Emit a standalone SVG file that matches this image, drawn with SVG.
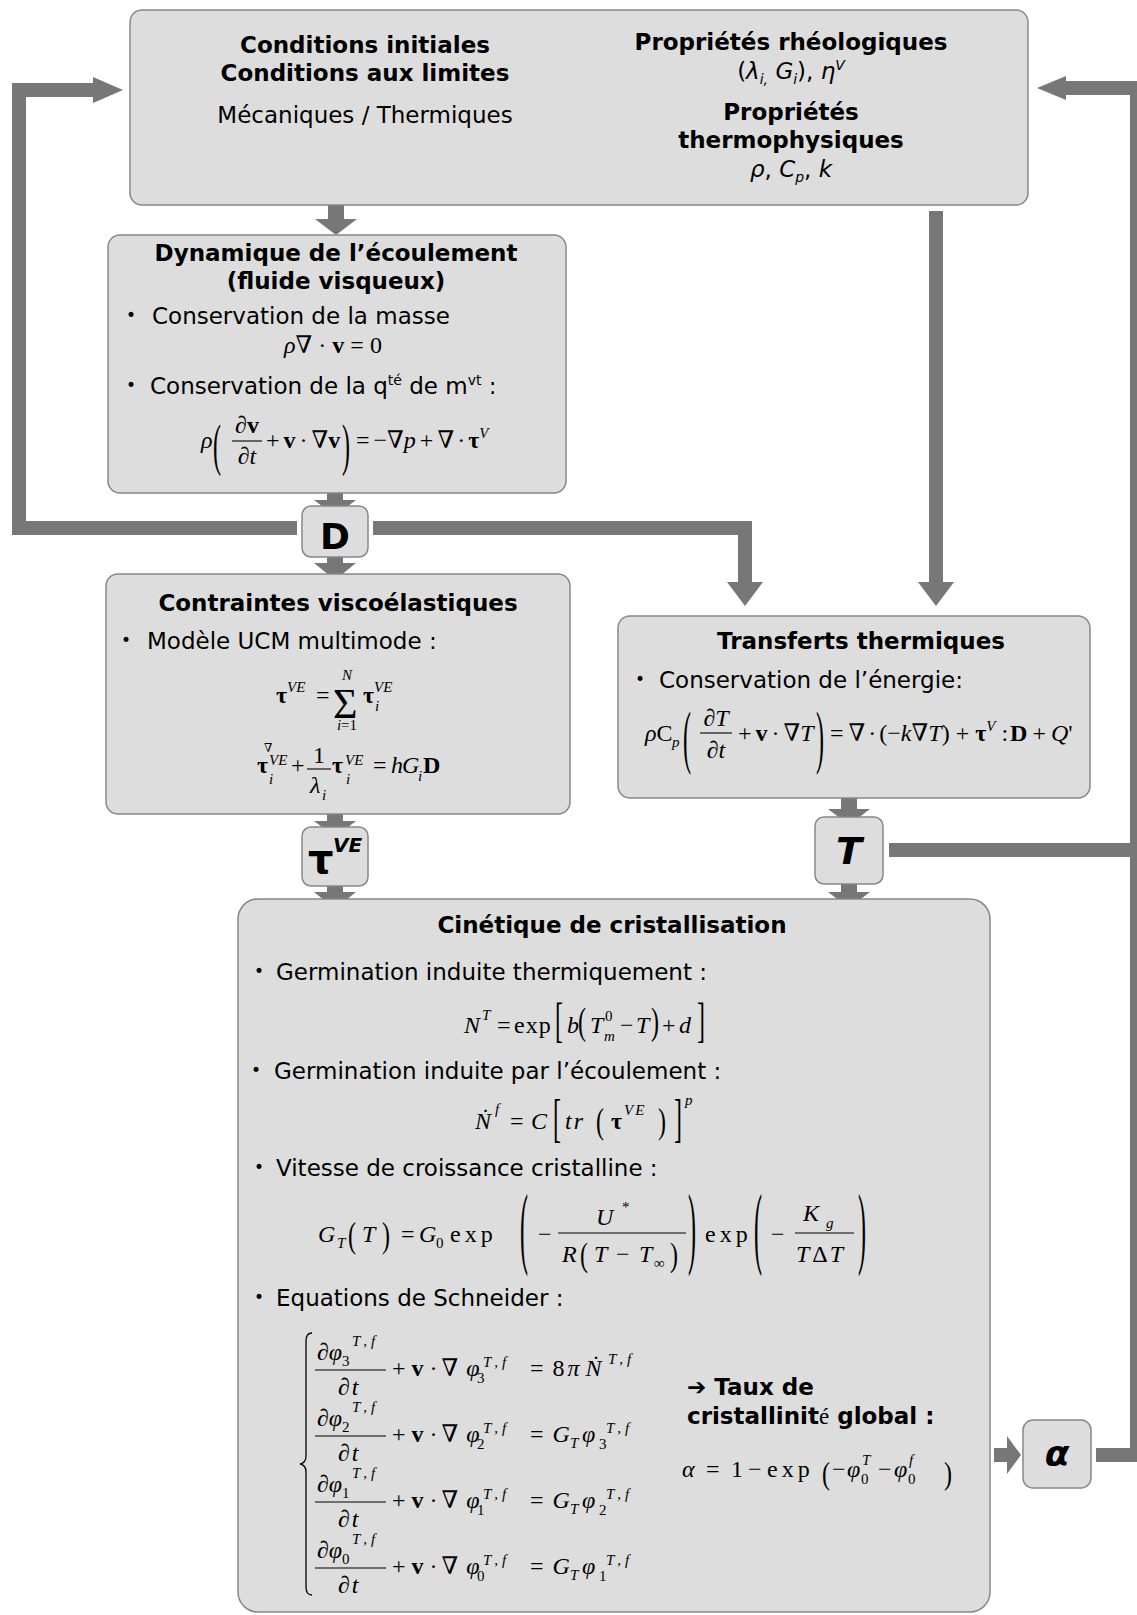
<svg xmlns="http://www.w3.org/2000/svg" width="1137" height="1615" viewBox="0 0 1137 1615">
<style>
.box{fill:#dddddd;stroke:#888888;stroke-width:1.5}
.t{font-family:"DejaVu Sans",Verdana,sans-serif;font-size:23px;fill:#000}
.b{font-weight:bold}
.c{text-anchor:middle}
.bl{font-family:"DejaVu Sans",sans-serif;font-size:17px;fill:#000}
.m{font-family:"Liberation Serif","DejaVu Serif","Times New Roman",serif;font-size:24px;fill:#000}
.i{font-style:italic}
.bd{font-weight:bold}
.s{font-size:15px}
.x{font-size:15px}
.ls{letter-spacing:4px}
.cn{fill:#777777}
.ln{stroke:#777777;stroke-width:14;fill:none}
.fl{stroke:#000;stroke-width:1.1}
.br{fill:none;stroke:#000;stroke-width:1.3}
</style>
<rect width="1137" height="1615" fill="#ffffff"/>

<g id="connectors">
  <rect class="cn" x="328" y="205" width="16" height="14"/>
  <polygon class="cn" points="315,219 357,219 336,235"/>
  <rect class="cn" x="327" y="484" width="16" height="16"/>
  <polygon class="cn" points="314,500 356,500 335,516"/>
  <rect class="cn" x="327" y="548" width="16" height="15"/>
  <polygon class="cn" points="314,563 356,563 335,580"/>
  <rect class="cn" x="327" y="806" width="16" height="15"/>
  <polygon class="cn" points="314,821 356,821 335,837"/>
  <rect class="cn" x="327" y="877" width="16" height="15"/>
  <polygon class="cn" points="314,892 356,892 335,909"/>
  <rect class="cn" x="841" y="791" width="16" height="18"/>
  <polygon class="cn" points="828,809 870,809 849,825"/>
  <rect class="cn" x="841" y="876" width="16" height="16"/>
  <polygon class="cn" points="828,892 870,892 849,908"/>
  <polyline class="ln" points="297,528 19,528 19,90 94,90"/>
  <polygon class="cn" points="93,77 123,90 93,103"/>
  <polyline class="ln" points="373,528 745,528 745,583"/>
  <polygon class="cn" points="727,582 763,582 745,606"/>
  <rect class="cn" x="929" y="211" width="14" height="372"/>
  <polygon class="cn" points="918,582 954,582 936,606"/>
  <polyline class="ln" points="1096,1455 1137,1455 1137,88 1066,88"/>
  <polygon class="cn" points="1066,76 1037,88 1066,100"/>
  <line class="ln" x1="889" y1="850" x2="1137" y2="850"/>
  <rect class="cn" x="994" y="1448" width="14" height="14"/>
  <polygon class="cn" points="1007,1436 1021,1455 1007,1474"/>
</g>

<g id="node-donnees">
  <rect class="box" x="130" y="10" width="898" height="195" rx="12"/>
  <text class="t b c" x="365" y="53">Conditions initiales</text>
  <text class="t b c" x="365" y="81">Conditions aux limites</text>
  <text class="t c" x="365" y="123">Mécaniques / Thermiques</text>
  <text class="t b c" x="791" y="50">Propriétés rhéologiques</text>
  <text class="t c" x="791" y="79">(<tspan class="i">λ</tspan><tspan class="i" font-size="14" dy="5">i,</tspan><tspan dy="-5"> </tspan><tspan class="i">G</tspan><tspan class="i" font-size="14" dy="5">i</tspan><tspan dy="-5">), </tspan><tspan class="i">η</tspan><tspan class="i" font-size="14" dy="-9">V</tspan></text>
  <text class="t b c" x="791" y="120">Propriétés</text>
  <text class="t b c" x="791" y="148">thermophysiques</text>
  <text class="t c" x="791" y="177"><tspan class="i">ρ</tspan>, <tspan class="i">C</tspan><tspan class="i" font-size="14" dy="5">p</tspan><tspan dy="-5">, </tspan><tspan class="i">k</tspan></text>
</g>

<g id="node-dynamique">
  <rect class="box" x="108" y="235" width="458" height="258" rx="12"/>
  <text class="t b c" x="336" y="261">Dynamique de l’écoulement</text>
  <text class="t b c" x="336" y="289">(fluide visqueux)</text>
  <text class="bl" x="126" y="321">•</text>
  <text class="t" x="152" y="324">Conservation de la masse</text>
  <text class="m c" x="333" y="353"><tspan class="i">ρ</tspan>∇ · <tspan class="bd">v</tspan> = 0</text>
  <text class="bl" x="126" y="391">•</text>
  <text class="t" x="150" y="394">Conservation de la q<tspan font-size="14" dy="-9">té</tspan><tspan dy="9"> de m</tspan><tspan font-size="14" dy="-9">vt</tspan><tspan dy="9"> :</tspan></text>
  <text class="m i" x="201" y="448">ρ</text>
  <text class="m" transform="translate(213,464) scale(1,2.4)">(</text>
  <text class="m c" x="247" y="433">∂<tspan class="bd">v</tspan></text>
  <line class="fl" x1="232" y1="441" x2="262" y2="441"/>
  <text class="m c" x="247" y="464">∂<tspan class="i">t</tspan></text>
  <text class="m" x="266" y="448">+<tspan class="bd" dx="4">v</tspan><tspan dx="4">·</tspan><tspan dx="4">∇</tspan><tspan class="bd">v</tspan></text>
  <text class="m" transform="translate(342,464) scale(1,2.4)">)</text>
  <text class="m" x="356" y="448">=<tspan dx="4">−∇</tspan><tspan class="i">p</tspan><tspan dx="4">+</tspan><tspan dx="4">∇</tspan><tspan dx="3">·</tspan><tspan class="bd" dx="3">τ</tspan><tspan class="i s" dy="-10">V</tspan></text>
</g>

<g id="node-D">
  <rect class="box" x="302" y="506" width="66" height="51" rx="9"/>
  <text class="t b c" x="335" y="549" style="font-size:36px">D</text>
</g>

<g id="node-contraintes">
  <rect class="box" x="106" y="574" width="464" height="240" rx="12"/>
  <text class="t b c" x="338" y="611">Contraintes viscoélastiques</text>
  <text class="bl" x="121" y="646">•</text>
  <text class="t" x="147" y="649">Modèle UCM multimode :</text>
  <text class="m bd" x="276" y="703">τ</text>
  <text class="m i s" x="287" y="692">VE</text>
  <text class="m" x="316" y="703">=</text>
  <text class="m" x="333" y="718" style="font-size:42px">Σ</text>
  <text class="m i s c" x="347" y="680">N</text>
  <text class="m s c" x="347" y="730"><tspan class="i">i</tspan>=1</text>
  <text class="m bd" x="363" y="703">τ</text>
  <text class="m i s" x="374" y="692">VE</text>
  <text class="m i s" x="375" y="711">i</text>
  <text class="m bd" x="257" y="773">τ</text>
  <text class="m" x="264" y="752" style="font-size:12px">∇</text>
  <text class="m i s" x="269" y="765">VE</text>
  <text class="m i s" x="269" y="784">i</text>
  <text class="m" x="291" y="773">+</text>
  <text class="m c" x="319" y="763">1</text>
  <line class="fl" x1="307" y1="769" x2="331" y2="769"/>
  <text class="m i" x="310" y="793">λ</text>
  <text class="m i s" x="322" y="800">i</text>
  <text class="m bd" x="332" y="773">τ</text>
  <text class="m i s" x="345" y="765">VE</text>
  <text class="m i s" x="346" y="784">i</text>
  <text class="m" x="373" y="773">=</text>
  <text class="m i" x="391" y="773">h</text>
  <text class="m i" x="402" y="773">G</text>
  <text class="m i s" x="418" y="781">i</text>
  <text class="m bd" x="423" y="773">D</text>
</g>

<g id="node-tau">
  <rect class="box" x="302" y="827" width="66" height="59" rx="9"/>
  <text class="t b" x="308" y="873" style="font-size:40px">τ</text>
  <text class="t b i" x="333" y="852" style="font-size:20px">VE</text>
</g>

<g id="node-transferts">
  <rect class="box" x="618" y="616" width="472" height="182" rx="12"/>
  <text class="t b c" x="861" y="649">Transferts thermiques</text>
  <text class="bl" x="635" y="685">•</text>
  <text class="t" x="659" y="688">Conservation de l’énergie:</text>
  <text class="m" x="645" y="741"><tspan class="i">ρ</tspan>C</text>
  <text class="m i s" x="672" y="747">p</text>
  <text class="m" transform="translate(683,760) scale(1,2.9)">(</text>
  <text class="m c" x="716" y="726">∂<tspan class="i">T</tspan></text>
  <line class="fl" x1="700" y1="733" x2="732" y2="733"/>
  <text class="m c" x="716" y="758">∂<tspan class="i">t</tspan></text>
  <text class="m" x="738" y="741">+<tspan class="bd" dx="4">v</tspan><tspan dx="4">·</tspan><tspan dx="4">∇</tspan><tspan class="i">T</tspan></text>
  <text class="m" transform="translate(816,760) scale(1,2.9)">)</text>
  <text class="m" x="830" y="741">=<tspan dx="5">∇</tspan><tspan dx="3">·</tspan><tspan dx="3">(</tspan>−<tspan class="i">k</tspan>∇<tspan class="i">T</tspan>)<tspan dx="6">+</tspan><tspan class="bd" dx="6">τ</tspan><tspan class="i s" dy="-10">V</tspan><tspan dx="6" dy="10">:</tspan><tspan class="bd" dx="2">D</tspan><tspan dx="5">+</tspan><tspan class="i" dx="5">Q</tspan>'</text>
</g>

<g id="node-T">
  <rect class="box" x="815" y="817" width="68" height="67" rx="9"/>
  <text class="t b i c" x="849" y="864" style="font-size:38px">T</text>
</g>

<g id="node-cinetique">
  <rect class="box" x="238" y="899" width="752" height="713" rx="20"/>
  <text class="t b c" x="612" y="933">Cinétique de cristallisation</text>
  <text class="bl" x="254" y="977">•</text>
  <text class="t" x="276" y="980">Germination induite thermiquement :</text>
  <text class="m i" x="464" y="1033">N</text>
  <text class="m i s" x="482" y="1020">T</text>
  <text class="m" x="497" y="1033">=</text>
  <text class="m" x="514" y="1033" letter-spacing="1">exp</text>
  <text class="m" transform="translate(555,1036) scale(1,2)">[</text>
  <text class="m i" x="567" y="1033">b</text>
  <text class="m" transform="translate(578,1034) scale(1,1.55)">(</text>
  <text class="m i" x="590" y="1033">T</text>
  <text class="m x" x="605" y="1021">0</text>
  <text class="m i x" x="604" y="1041">m</text>
  <text class="m" x="620" y="1033">−</text>
  <text class="m i" x="636" y="1033">T</text>
  <text class="m" transform="translate(651,1034) scale(1,1.55)">)</text>
  <text class="m" x="662" y="1033">+</text>
  <text class="m i" x="679" y="1033">d</text>
  <text class="m" transform="translate(697,1036) scale(1,2)">]</text>

  <text class="bl" x="251" y="1076">•</text>
  <text class="t" x="274" y="1079">Germination induite par l’écoulement :</text>
  <text class="m i" x="475" y="1129">Ṅ</text>
  <text class="m i s" x="495" y="1114">f</text>
  <text class="m" x="510" y="1129">=</text>
  <text class="m i" x="531" y="1129">C</text>
  <text class="m" transform="translate(553,1136) scale(1,2.2)">[</text>
  <text class="m i" x="565" y="1129" letter-spacing="2">tr</text>
  <text class="m" transform="translate(596,1133) scale(1,1.5)">(</text>
  <text class="m bd" x="611" y="1129">τ</text>
  <text class="m i x" x="624" y="1115" letter-spacing="2">VE</text>
  <text class="m" transform="translate(658,1133) scale(1,1.5)">)</text>
  <text class="m" transform="translate(674,1136) scale(1,2.2)">]</text>
  <text class="m i x" x="685" y="1105">p</text>

  <text class="bl" x="254" y="1173">•</text>
  <text class="t" x="276" y="1176">Vitesse de croissance cristalline :</text>
  <text class="m i" x="318" y="1242">G</text>
  <text class="m i s" x="337" y="1248">T</text>
  <text class="m" transform="translate(348,1247) scale(1,1.5)">(</text>
  <text class="m i" x="362" y="1242">T</text>
  <text class="m" transform="translate(382,1247) scale(1,1.5)">)</text>
  <text class="m" x="401" y="1242">=</text>
  <text class="m i" x="419" y="1242">G</text>
  <text class="m s" x="436" y="1248">0</text>
  <text class="m" x="450" y="1242" letter-spacing="4">exp</text>
  <text class="m" transform="translate(520,1257) scale(1,3.8)">(</text>
  <text class="m" x="538" y="1242">−</text>
  <text class="m i" x="596" y="1225">U</text>
  <text class="m s" x="622" y="1212">*</text>
  <line class="fl" x1="558" y1="1233" x2="686" y2="1233"/>
  <text class="m i" x="562" y="1262">R</text>
  <text class="m" transform="translate(580,1266) scale(1,1.4)">(</text>
  <text class="m i" x="594" y="1262">T</text>
  <text class="m" x="616" y="1262">−</text>
  <text class="m i" x="639" y="1262">T</text>
  <text class="m s" x="654" y="1268">∞</text>
  <text class="m" transform="translate(670,1266) scale(1,1.4)">)</text>
  <text class="m" transform="translate(688,1257) scale(1,3.8)">)</text>
  <text class="m" x="705" y="1242" letter-spacing="4">exp</text>
  <text class="m" transform="translate(754,1257) scale(1,3.8)">(</text>
  <text class="m" x="771" y="1242">−</text>
  <text class="m i" x="803" y="1221">K</text>
  <text class="m i s" x="826" y="1228">g</text>
  <line class="fl" x1="795" y1="1233" x2="854" y2="1233"/>
  <text class="m" x="796" y="1262"><tspan class="i">T</tspan><tspan dx="3">Δ</tspan><tspan class="i" dx="2">T</tspan></text>
  <text class="m" transform="translate(858,1257) scale(1,3.8)">)</text>

  <text class="bl" x="254" y="1303">•</text>
  <text class="t" x="276" y="1306">Equations de Schneider :</text>
  <path class="br" d="M 312 1333 Q 306 1333 306 1341 L 306 1456 Q 306 1463 300 1464 Q 306 1465 306 1472 L 306 1587 Q 306 1595 312 1595"/>

  <text class="m" x="317" y="1360">∂<tspan class="i">φ</tspan></text>
  <text class="m x" x="342" y="1366">3</text>
  <text class="m i x ls" x="352" y="1346">T,f</text>
  <line class="fl" x1="315" y1="1370" x2="386" y2="1370"/>
  <text class="m" x="338" y="1395">∂<tspan class="i" dx="2">t</tspan></text>
  <text class="m" x="392" y="1376">+<tspan class="bd" dx="6">v</tspan><tspan dx="6">·</tspan><tspan dx="4">∇</tspan><tspan class="i" dx="8">φ</tspan></text>
  <text class="m x" x="477" y="1383">3</text>
  <text class="m i x ls" x="483" y="1367">T,f</text>
  <text class="m" x="530" y="1376">=<tspan dx="9">8</tspan><tspan class="i" dx="3">π</tspan><tspan class="i" dx="6">Ṅ</tspan></text>
  <text class="m i x ls" x="608" y="1364">T,f</text>

  <text class="m" x="317" y="1426">∂<tspan class="i">φ</tspan></text>
  <text class="m x" x="342" y="1432">2</text>
  <text class="m i x ls" x="352" y="1412">T,f</text>
  <line class="fl" x1="315" y1="1436" x2="386" y2="1436"/>
  <text class="m" x="338" y="1461">∂<tspan class="i" dx="2">t</tspan></text>
  <text class="m" x="392" y="1442">+<tspan class="bd" dx="6">v</tspan><tspan dx="6">·</tspan><tspan dx="4">∇</tspan><tspan class="i" dx="8">φ</tspan></text>
  <text class="m x" x="477" y="1449">2</text>
  <text class="m i x ls" x="483" y="1433">T,f</text>
  <text class="m" x="530" y="1442">=<tspan class="i" dx="9">G</tspan></text>
  <text class="m i x" x="570" y="1448">T</text>
  <text class="m i" x="582" y="1442">φ</text>
  <text class="m x" x="599" y="1449">3</text>
  <text class="m i x ls" x="606" y="1433">T,f</text>

  <text class="m" x="317" y="1492">∂<tspan class="i">φ</tspan></text>
  <text class="m x" x="342" y="1498">1</text>
  <text class="m i x ls" x="352" y="1478">T,f</text>
  <line class="fl" x1="315" y1="1502" x2="386" y2="1502"/>
  <text class="m" x="338" y="1527">∂<tspan class="i" dx="2">t</tspan></text>
  <text class="m" x="392" y="1508">+<tspan class="bd" dx="6">v</tspan><tspan dx="6">·</tspan><tspan dx="4">∇</tspan><tspan class="i" dx="8">φ</tspan></text>
  <text class="m x" x="477" y="1515">1</text>
  <text class="m i x ls" x="483" y="1499">T,f</text>
  <text class="m" x="530" y="1508">=<tspan class="i" dx="9">G</tspan></text>
  <text class="m i x" x="570" y="1514">T</text>
  <text class="m i" x="582" y="1508">φ</text>
  <text class="m x" x="599" y="1515">2</text>
  <text class="m i x ls" x="606" y="1499">T,f</text>

  <text class="m" x="317" y="1558">∂<tspan class="i">φ</tspan></text>
  <text class="m x" x="342" y="1564">0</text>
  <text class="m i x ls" x="352" y="1544">T,f</text>
  <line class="fl" x1="315" y1="1568" x2="386" y2="1568"/>
  <text class="m" x="338" y="1593">∂<tspan class="i" dx="2">t</tspan></text>
  <text class="m" x="392" y="1574">+<tspan class="bd" dx="6">v</tspan><tspan dx="6">·</tspan><tspan dx="4">∇</tspan><tspan class="i" dx="8">φ</tspan></text>
  <text class="m x" x="477" y="1581">0</text>
  <text class="m i x ls" x="483" y="1565">T,f</text>
  <text class="m" x="530" y="1574">=<tspan class="i" dx="9">G</tspan></text>
  <text class="m i x" x="570" y="1580">T</text>
  <text class="m i" x="582" y="1574">φ</text>
  <text class="m x" x="599" y="1581">1</text>
  <text class="m i x ls" x="606" y="1565">T,f</text>

  <text class="t b" x="687" y="1395">➔ Taux de</text>
  <text class="t b" x="687" y="1424">cristallinit<tspan font-family="Liberation Serif, serif" font-weight="normal">é</tspan> global :</text>
  <text class="m i" x="682" y="1477">α</text>
  <text class="m" x="706" y="1477">=</text>
  <text class="m" x="731" y="1477">1</text>
  <text class="m" x="748" y="1477">−</text>
  <text class="m" x="767" y="1477" letter-spacing="4">exp</text>
  <text class="m" transform="translate(822,1484) scale(1,1.35)">(</text>
  <text class="m" x="832" y="1477">−</text>
  <text class="m i" x="847" y="1477">φ</text>
  <text class="m x" x="861" y="1484">0</text>
  <text class="m i x" x="862" y="1465">T</text>
  <text class="m" x="878" y="1477">−</text>
  <text class="m i" x="894" y="1477">φ</text>
  <text class="m x" x="908" y="1484">0</text>
  <text class="m i x" x="909" y="1465">f</text>
  <text class="m" transform="translate(944,1484) scale(1,1.35)">)</text>
</g>

<g id="node-alpha">
  <rect class="box" x="1023" y="1420" width="68" height="68" rx="10"/>
  <text class="t b i c" x="1057" y="1466" style="font-size:36px">α</text>
</g>
</svg>
